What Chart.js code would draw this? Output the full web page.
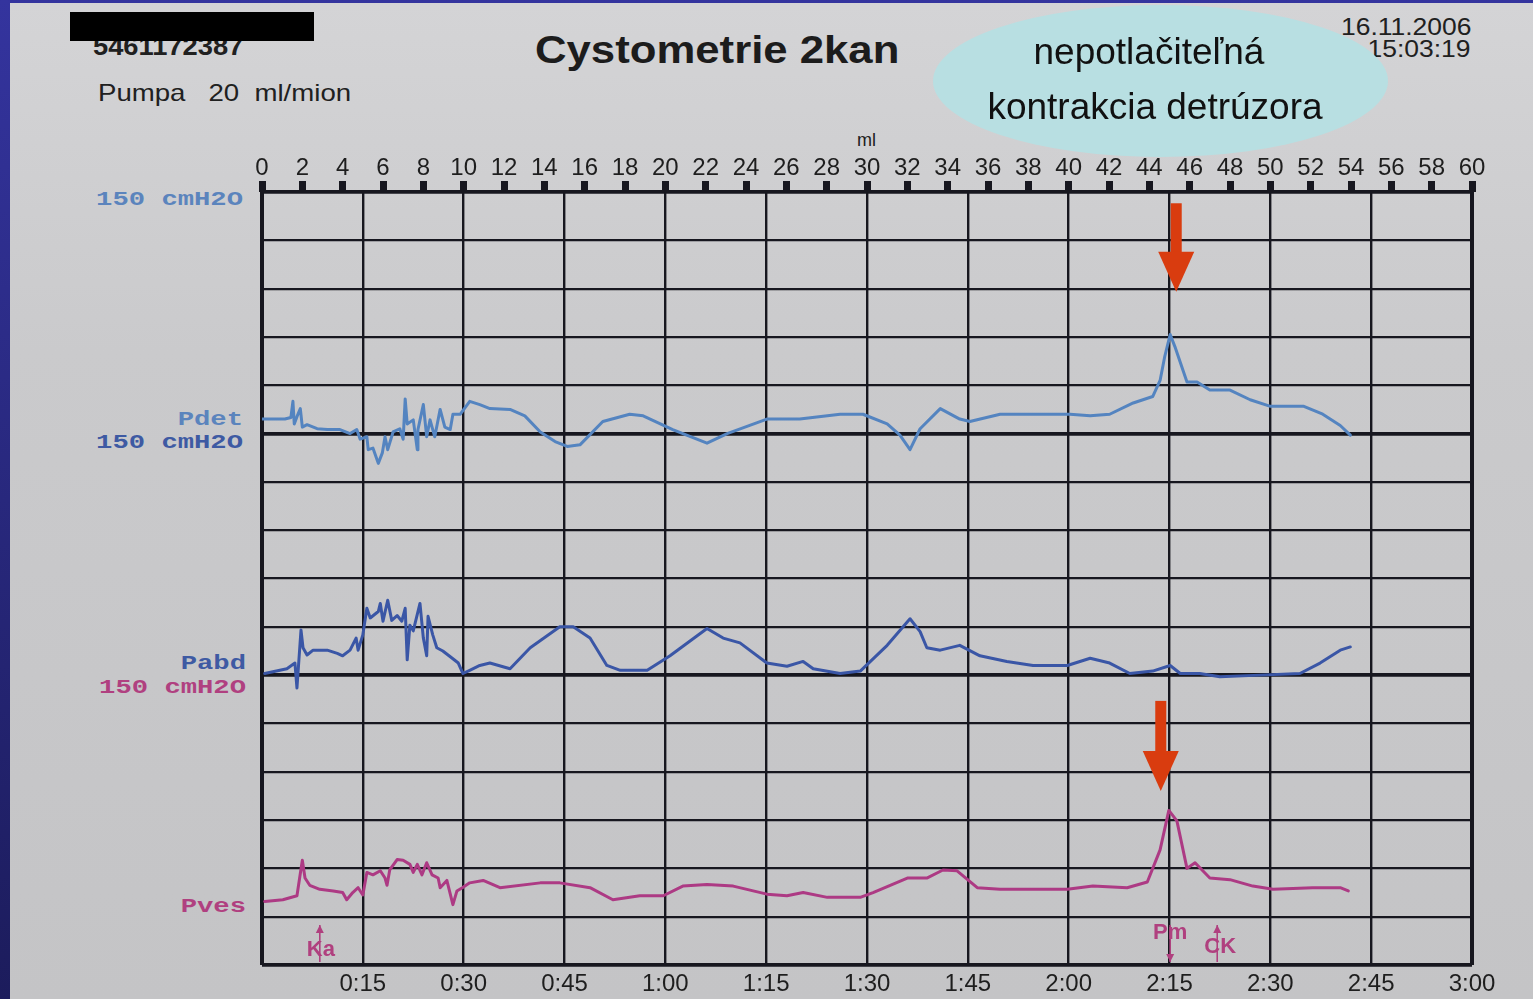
<!DOCTYPE html>
<html>
<head>
<meta charset="utf-8">
<title>Cystometrie 2kan</title>
<script src="https://cdn.jsdelivr.net/npm/chart.js@4.4.1/dist/chart.umd.min.js"></script>
<style>
  html, body { margin: 0; padding: 0; }
  body {
    width: 1533px; height: 999px; overflow: hidden; position: relative;
    background: linear-gradient(#34349e, #1c1c5c);
    font-family: 'Liberation Sans', Arial, sans-serif;
  }
  #paper {
    position: absolute; left: 10px; top: 3px; right: 0; bottom: 0;
    background: linear-gradient(180deg, #d4d4d6 0%, #cacacc 35%, #c4c4c6 100%);
  }
  #wrap { position: absolute; left: 0; top: 0; width: 1533px; height: 999px; }
  .t { position: absolute; white-space: pre; color: #202020; line-height: 1; transform-origin: left center; }
  .r { transform-origin: right center; text-align: right; }
  .mono { font-family: 'Liberation Mono', 'DejaVu Sans Mono', monospace; font-weight: bold; font-size: 20px; transform: scaleX(1.36); }
  #redact { position: absolute; left: 70px; top: 12px; width: 244px; height: 29px; background: #000; }
  #bubble {
    position: absolute; left: 933px; top: 5px; width: 455px; height: 152px;
    border-radius: 50%; background: #b8dfe2;
  }
  .bub { position: absolute; width: 500px; text-align: center; font-size: 37px; color: #111; line-height: 1; white-space: pre; }
</style>
</head>
<body>
<div id="paper"></div>

<div class="t" style="left:93px; top:33px; font-size:26px; font-weight:bold; transform:scaleX(1.05);">5461172387</div>
<div id="redact"></div>
<div class="t" style="left:535px; top:31px; font-size:38px; font-weight:bold; color:#1c1c1c; transform:scaleX(1.15);">Cystometrie 2kan</div>
<div class="t" style="left:98px; top:81px; font-size:24px; transform:scaleX(1.15);">Pumpa   20  ml/mion</div>
<div class="t r" style="right:62px; top:16px; font-size:23px; transform:scaleX(1.15);">16.11.2006</div>
<div class="t r" style="right:62px; top:38px; font-size:23px; transform:scaleX(1.15);">15:03:19</div>
<div class="t" style="left:857px; top:131px; font-size:18px;">ml</div>

<div class="t r mono" style="right:1290px; top:190px; color:#5b84bd;">150 cmH2O</div>
<div class="t r mono" style="right:1290px; top:410px; color:#5b84bd;">Pdet</div>
<div class="t r mono" style="right:1290px; top:433px; color:#3e5aa3;">150 cmH2O</div>
<div class="t r mono" style="right:1287px; top:654px; color:#3e5aa3;">Pabd</div>
<div class="t r mono" style="right:1287px; top:678px; color:#b04080;">150 cmH2O</div>
<div class="t r mono" style="right:1287px; top:897px; color:#b04080;">Pves</div>

<div id="wrap"><canvas id="chart"></canvas></div>

<div id="bubble"></div>
<div class="bub" style="left:899px; top:33px;">nepotlačiteľná</div>
<div class="bub" style="left:905px; top:88px;">kontrakcia detrúzora</div>

<script>
// time in seconds, pressures in cmH2O
const pdetTime = [0, 3.4, 4.3, 4.6, 4.8, 5.2, 5.7, 6.0, 6.7, 8.2, 9.7, 11.6, 13.1, 14.1, 14.6, 15.6, 15.8, 16.5, 17.3, 17.9,
  18.3, 18.7, 19.5, 20.5, 21.0, 21.3, 21.6, 22.5, 23.1, 23.2, 24.0, 24.5, 25.0, 25.7, 26.5, 27.2, 28.0, 28.4, 29.5, 30.9,
  32.4, 33.9, 36.9, 39.1, 41.4, 43.6, 45.4, 47.3, 50.7, 54.7, 56.7, 61.1, 66.2, 69.2, 75.1, 80.0, 86.0, 89.4, 93.0, 94.9,
  96.4, 97.9, 100.9, 103.8, 105.3, 109.8, 117.2, 120.2, 123.2, 126.1, 129.6, 132.5, 133.6, 134.3, 135.1, 135.8, 137.6, 139.1, 141.0, 144.0,
  147.0, 149.9, 154.9, 157.8, 160.4, 161.9];
const pdetValues = [9, 9, 10, 20, 6, 10.5, 15.5, 4, 5.5, 3, 2.5, 2.5, 0, 2.5, -3.5, -2, -10, -9, -18.5, -12,
  -2, -10, 1, 3, -3.5, 21.5, 6, 8.5, -10, 2.5, 18, -2, 8.5, -2, 15, 4, 2.5, 12, 12, 20,
  18, 15.5, 15, 11, 1, -5, -8, -7, 7.5, 12, 11, 2.5, -6, 0, 9, 9, 12, 12, 6, -1,
  -10, 3, 15.5, 9, 7.5, 12, 12, 12, 11, 12, 19, 23, 33, 48, 61.5, 54, 32, 32, 27, 27,
  21, 17, 17, 12, 5, -1];

const pabdTime = [0.4, 3.7, 4.9, 5.2, 5.8, 6.1, 6.7, 7.6, 9.7, 11.2, 12.0, 13.1, 14.0, 14.3, 15.0, 15.6, 16.1, 17.3, 17.6, 18.0,
  18.7, 19.3, 20.1, 20.8, 21.3, 21.6, 22.0, 22.5, 23.5, 24.0, 24.5, 24.7, 25.4, 26.0, 26.9, 28.3, 29.2, 29.9, 30.9, 32.4,
  33.9, 36.9, 39.9, 44.3, 46.3, 48.8, 51.3, 53.3, 57.3, 60.7, 66.2, 68.6, 71.1, 75.1, 78.1, 80.5, 82.0, 86.0, 89.0, 93.0,
  96.4, 97.9, 98.9, 100.9, 103.8, 106.8, 110.8, 114.7, 119.8, 123.2, 126.1, 129.1, 132.5, 135.1, 136.6, 139.5, 142.5, 148.5, 154.4, 157.4,
  160.4, 161.9];
const pabdValues = [1, 4, 7.5, -8, 28, 17, 12.5, 15.5, 15.5, 13.5, 12, 15.5, 23, 15.5, 25, 41.5, 35.5, 39.5, 44.5, 33.5,
  46.5, 34, 37, 33.5, 41.5, 9.5, 31, 27.5, 44.5, 23, 12, 36.5, 25, 17, 15, 10.5, 7.5, 1, 3, 6,
  7.5, 4, 17, 30, 30, 23, 6, 3, 3, 12, 29, 23, 20, 7.5, 5.5, 8.5, 4, 1, 2.5, 18.5,
  35, 27, 17, 15.5, 18.5, 12, 8.5, 6, 6, 10.5, 7.5, 1, 2.5, 6, 1, 1, -1, 0, 1, 7.5,
  15.5, 17.5];

const pvesTime = [0.4, 3.1, 5.2, 6.0, 6.4, 7.1, 8.6, 10.6, 12.0, 12.6, 13.5, 14.3, 15.0, 15.6, 16.5, 17.6, 18.3, 18.6, 19.0, 20.1,
  21.0, 22.0, 22.5, 23.1, 23.8, 24.5, 25.3, 26.2, 26.5, 27.5, 28.4, 29.0, 29.8, 30.9, 32.9, 35.4, 41.4, 44.3, 48.8, 52.2,
  56.2, 59.7, 62.6, 66.2, 70.1, 75.1, 78.1, 80.5, 84.1, 89.0, 90.9, 96.0, 98.9, 101.3, 103.4, 106.4, 109.8, 119.8, 123.6, 128.7,
  131.7, 133.6, 134.9, 136.1, 137.6, 138.8, 141.0, 144.0, 147.4, 150.4, 156.3, 160.4, 161.6];
const pvesValues = [9.5, 10.5, 13, 35, 24, 19.5, 17, 16, 15, 10.5, 15, 18, 13.5, 27.5, 26, 28.5, 24, 19.5, 29, 35.5,
  35, 32.5, 27.5, 32.5, 26, 33.5, 26, 24, 18, 22.5, 7.5, 16, 18, 21, 22.5, 18, 21, 21, 18, 10.5,
  13, 13, 19, 20, 19, 14, 13, 15, 12, 12, 15, 24, 24, 29, 28.5, 18, 17, 17, 19, 18,
  21.5, 41.5, 66, 59.5, 30, 33.5, 24, 23, 19, 17, 18, 18, 16];

// event marks under the Pves trace
const eventNames = ['Ka', 'Pm', 'CK'];
const eventTimes = [8.6, 135.1, 142.1];
const eventPointsUp = [true, false, true];

// red arrows (time, from / to in Pdet axis units)
const arrowTimes = [136.0, 133.7];
const arrowFrom = [143, -166];
const arrowTo = [88, -222];

const toPoints = (times, values) => times.map((t, i) => ({ x: t, y: values[i] }));

const fmtTime = (s) => s === 0 ? '' : `${Math.floor(s / 60)}:${String(s % 60).padStart(2, '0')}`;

const ink = '#17171f';
const font = "'Liberation Sans', Arial, sans-serif";

const markerPlugin = {
  id: 'markers',
  afterDatasetsDraw(chart) {
    const { ctx, chartArea, scales: { x, y } } = chart;
    ctx.save();

    // red arrows
    ctx.fillStyle = '#d93c0f';
    arrowTimes.forEach((t, i) => {
      const px = x.getPixelForValue(t);
      const top = y.getPixelForValue(arrowFrom[i]);
      const tip = y.getPixelForValue(arrowTo[i]);
      ctx.fillRect(px - 5.5, top, 11, tip - top - 36);
      ctx.beginPath();
      ctx.moveTo(px - 18, tip - 40);
      ctx.lineTo(px + 18, tip - 40);
      ctx.lineTo(px, tip);
      ctx.closePath();
      ctx.fill();
    });

    // event labels
    const lift = [15, 32, 18];
    const shift = [1, 0, 3];
    ctx.strokeStyle = '#b0407f';
    ctx.fillStyle = '#b0407f';
    ctx.lineWidth = 1.6;
    ctx.font = `bold 22px ${font}`;
    ctx.textAlign = 'center';
    ctx.textBaseline = 'middle';
    eventTimes.forEach((t, i) => {
      const px = x.getPixelForValue(t);
      const bottom = chartArea.bottom - 3;
      const top = chartArea.bottom - 40;
      ctx.beginPath();
      ctx.moveTo(px, bottom);
      ctx.lineTo(px, top);
      ctx.stroke();
      const head = eventPointsUp[i] ? top : bottom;
      const dir = eventPointsUp[i] ? 1 : -1;
      ctx.beginPath();
      ctx.moveTo(px, head);
      ctx.lineTo(px - 4, head + dir * 8);
      ctx.lineTo(px + 4, head + dir * 8);
      ctx.closePath();
      ctx.fill();
      ctx.fillText(eventNames[i], px + shift[i], chartArea.bottom - lift[i]);
    });
    ctx.restore();
  }
};

new Chart(document.getElementById('chart'), {
  type: 'line',
  data: {
    datasets: [
      { label: 'Pdet', data: toPoints(pdetTime, pdetValues), yAxisID: 'y', borderColor: '#5484c0' },
      { label: 'Pabd', data: toPoints(pabdTime, pabdValues), yAxisID: 'yAbd', borderColor: '#3a56a6' },
      { label: 'Pves', data: toPoints(pvesTime, pvesValues), yAxisID: 'yVes', borderColor: '#ad3a84' }
    ]
  },
  options: {
    responsive: true,
    maintainAspectRatio: false,
    animation: false,
    layout: { padding: { left: 0, right: 61, top: 0, bottom: 0 } },
    elements: {
      point: { radius: 0 },
      line: { borderWidth: 3, tension: 0, borderJoinStyle: 'round', borderCapStyle: 'round' }
    },
    plugins: { legend: { display: false }, tooltip: { enabled: false } },
    scales: {
      x: {
        type: 'linear', position: 'bottom', min: 0, max: 180,
        border: { display: false },
        grid: {
          color: ink, drawTicks: false,
          lineWidth: (c) => (c.tick.value === 0 || c.tick.value === 180) ? 4 : 2.4
        },
        ticks: {
          stepSize: 15, autoSkip: false, maxRotation: 0, padding: 5,
          color: '#1e1e1e', font: { family: font, size: 24 },
          callback: (v) => fmtTime(v)
        },
        afterFit: (scale) => { scale.height = 34; }
      },
      ml: {
        type: 'linear', position: 'top', min: 0, max: 60,
        border: { display: false },
        grid: { drawOnChartArea: false, drawTicks: true, tickLength: 11, tickWidth: 7, tickColor: ink },
        ticks: {
          stepSize: 2, autoSkip: false, maxRotation: 0, padding: -2,
          color: '#1e1e1e', font: { family: font, size: 24 }
        },
        afterFit: (scale) => { scale.height = 192; }
      },
      y: {
        min: -330, max: 150,
        border: { display: false },
        grid: {
          color: ink, drawTicks: false,
          lineWidth: (c) => [150, 0, -150, -330].includes(c.tick.value) ? 3.8 : 2.2
        },
        ticks: { stepSize: 30, display: false },
        afterFit: (scale) => { scale.width = 262; }
      },
      yAbd: { display: false, min: -180, max: 300 },
      yVes: { display: false, min: -30, max: 450 }
    }
  },
  plugins: [markerPlugin]
});
</script>
</body>
</html>
